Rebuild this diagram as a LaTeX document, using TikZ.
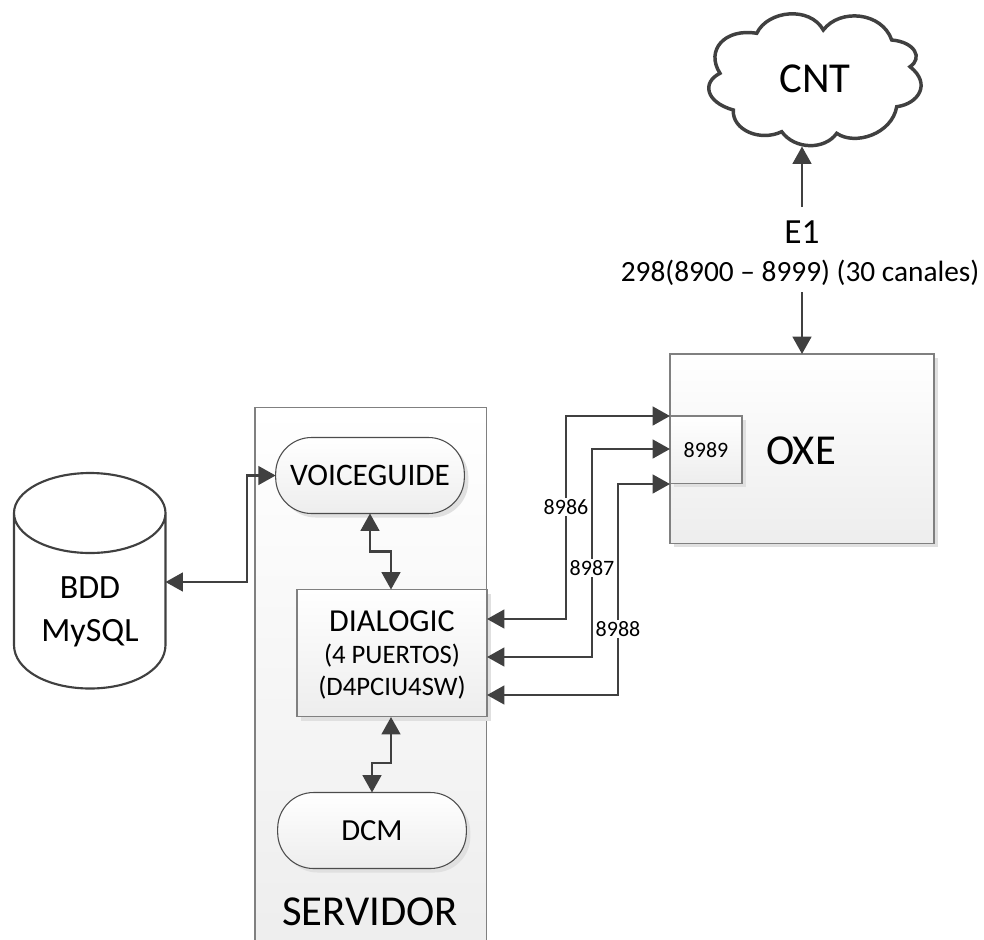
\documentclass[tikz,border=0pt]{standalone}
\usepackage{fontspec}
\setmainfont{Carlito}
\usetikzlibrary{calc,arrows.meta,shadows}

\definecolor{linegray}{HTML}{404040}
\definecolor{edgegray}{HTML}{808080}
\newcommand{\fnt}[2]{\fontsize{#1}{#2}\selectfont}

\tikzset{
  link/.style={line width=1.8pt,linegray,>={Triangle[length=13pt,width=14pt]}},
  panel/.style={draw=edgegray,line width=0.8pt,top color=white,bottom color=black!7,inner sep=0pt,outer sep=0pt},
  box/.style={panel,drop shadow={shadow xshift=3pt,shadow yshift=-3pt,fill=black!12,opacity=1}},
  pill/.style={box,draw=black!70,rounded corners=27pt,minimum width=141.5pt,minimum height=57pt},
  portlabel/.style={fill=white,inner sep=1pt,font=\fnt{16.5}{18}},
}

\begin{document}
\begin{tikzpicture}[x=0.75pt,y=-0.75pt]
  \useasboundingbox (0,0) rectangle (984,939);
  \clip (0,0) rectangle (984,939);

  % server frame runs off the page
  \node[panel,anchor=north west,minimum width=173.5pt,minimum height=410pt] (servidor) at (255,407.5) {};
  \node[font=\fnt{32}{34}] (servidorlabel) at (370,912) {SERVIDOR};

  \node[box,anchor=north west,minimum width=198pt,minimum height=142pt] (oxe) at (670,354) {};
  \node[font=\fnt{32}{34}] (oxelabel) at (801,451) {OXE};
  \node[box,anchor=north west,minimum width=54pt,minimum height=50.5pt,font=\fnt{16.5}{18}] (port) at (670,416) {8989};

  \node[pill,font=\fnt{23.5}{26}] (voice) at (370,475.5) {VOICEGUIDE};
  \node[pill,font=\fnt{23}{26}] (dcm) at (372,830.5) {DCM};
  \node[box,anchor=north west,minimum width=142.5pt,minimum height=95.5pt] (dialogic) at (297,589.5) {};
  \node[align=center,font=\fnt{20}{24}] (dialogiclabel) at (392,655)
    {{\fnt{24}{27}DIALOGIC}\\(4 PUERTOS)\\(D4PCIU4SW)};

  % database
  \path[draw=linegray,line width=1.6pt,fill=white] (14,513) -- (14,645)
    .. controls (14,670) and (48,688.5) .. (90,688.5)
    .. controls (132,688.5) and (165.5,670) .. (165.5,645) -- (165.5,513)
    .. controls (165.5,491) and (132,473) .. (90,473)
    .. controls (48,473) and (14,491) .. (14,513)
    .. controls (14,535) and (48,553) .. (90,553)
    .. controls (132,553) and (165.5,535) .. (165.5,513);
  \node[align=center,font=\fnt{25.5}{32}] (bdd) at (90,612) {BDD\\MySQL};

  % cloud
  \path[draw=linegray,line width=2.6pt,fill=white] (756.7,33.3)
    .. controls (768,10) and (810,6) .. (823.3,30)
    .. controls (840,8) and (882,12) .. (891.7,40)
    .. controls (915,42) and (923,58) .. (910,66.7)
    .. controls (932,84) and (918,104) .. (896.7,106.7)
    .. controls (892,134) and (855,146) .. (836.7,133.3)
    .. controls (825,150) and (795,150) .. (781.7,131.7)
    .. controls (760,142) and (732,130) .. (733.3,110)
    .. controls (705,102) and (702,82) .. (720,73.3)
    .. controls (705,50) and (725,28) .. (756.7,33.3) -- cycle;
  \node[font=\fnt{32}{34}] (cnt) at (815,79) {CNT};
  \coordinate (cntport) at (802,146.5);

  \node[font=\fnt{26.5}{28}] (e1) at (802,232) {E1};
  \node[font=\fnt{22}{24}] (trunk) at (800,273) {298(8900 -- 8999) (30 canales)};

  \draw[link,->] (e1.north |- 0,207) -- (cntport);
  \coordinate (trunkout) at (802,292);
  \draw[link,->] (trunkout) -- (trunkout |- oxe.north);

  % database and server links
  \coordinate (bddport) at (165.5,582);
  \coordinate (busleft) at (247,582);
  \draw[link,<->] (bddport) -- (busleft) |- (voice.west);

  \coordinate (vbend) at ($ (voice.south) ! 0.5 ! (voice.south |- dialogic.north) $);
  \coordinate (dtop) at (391,589.5);
  \draw[link,<->] (voice.south) -- (vbend) -| (dtop);

  \coordinate (dbot) at (391,717);
  \coordinate (dbend) at (391,763);
  \draw[link,<->] (dbot) -- (dbend) -| (dcm.north);

  % trunk lines
  \coordinate (d1) at (487,619);
  \coordinate (d2) at (487,657);
  \coordinate (d3) at (487,695);
  \coordinate (p1) at (670,416);
  \coordinate (p2) at (670,449);
  \coordinate (p3) at (670,484);

  \draw[link,<->] (d1) -- (566,619) |- (p1);
  \draw[link,<->] (d2) -- (592,657) |- (p2);
  \draw[link,<->] (d3) -- (618,695) |- (p3);
  \node[portlabel] (l86) at (566,507) {8986};
  \node[portlabel] (l87) at (592,568) {8987};
  \node[portlabel] (l88) at (618,629) {8988};
\end{tikzpicture}
\end{document}
